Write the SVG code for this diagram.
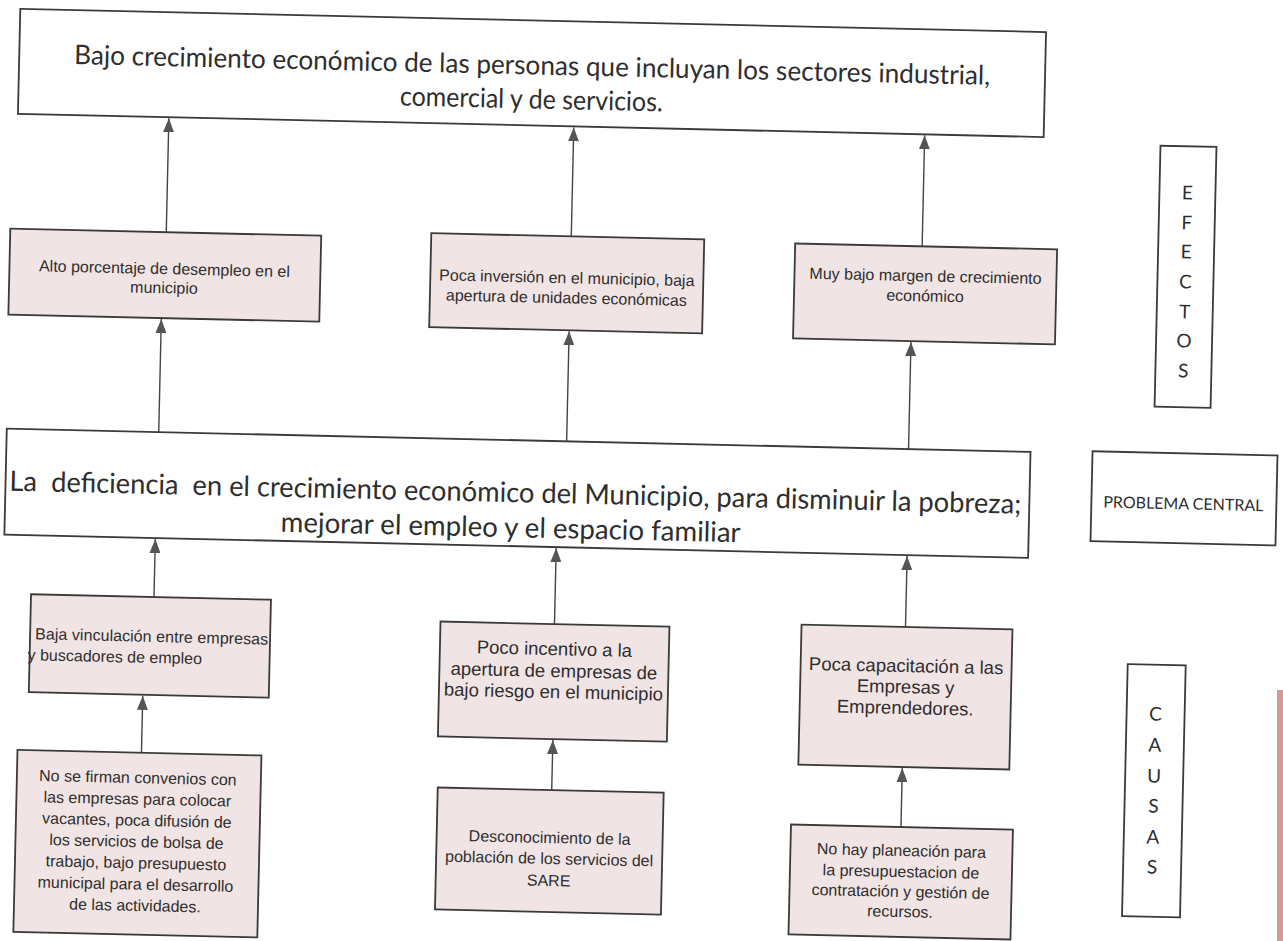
<svg xmlns="http://www.w3.org/2000/svg" width="1283" height="941" viewBox="0 0 1283 941">
<defs>
<style>
.box{fill:#ffffff;stroke:#3a3a3a;stroke-width:1.8}
.pink{fill:#f1e4e4;stroke:#3a3a3a;stroke-width:1.8}
.big{font-family:Lato,"Open Sans","Liberation Sans",sans-serif;font-size:27px;fill:#2e2e2e;text-anchor:middle;white-space:pre}
.lab{font-family:Lato,"Open Sans","Liberation Sans",sans-serif;font-size:19px;fill:#2e2e2e;text-anchor:middle}
.sm{font-family:"Liberation Sans",Arial,sans-serif;font-size:16px;fill:#2e2e2e;text-anchor:middle}
.md{font-family:"Liberation Sans",Arial,sans-serif;font-size:18.5px;fill:#2e2e2e;text-anchor:middle}
.con{stroke:#444;stroke-width:1.4;fill:none;marker-end:url(#ah)}
</style>
<marker id="ah" viewBox="0 0 14 11" refX="14" refY="5.5" markerWidth="14" markerHeight="11" markerUnits="userSpaceOnUse" orient="auto">
<path d="M0,0 L14,5.5 L0,11 z" fill="#555"/>
</marker>
</defs>
<rect x="0" y="0" width="1283" height="941" fill="#ffffff"/>
<rect x="1277" y="690" width="6" height="251" fill="#c98080" opacity="0.8"/>
<g transform="rotate(1.3 640 470)">
<g id="connectors">
<line class="con" x1="161" y1="243" x2="161" y2="129"/>
<line class="con" x1="566" y1="238" x2="566" y2="129"/>
<line class="con" x1="917" y1="240" x2="917" y2="129"/>
<line class="con" x1="158" y1="443" x2="158" y2="330"/>
<line class="con" x1="566" y1="443" x2="566" y2="333"/>
<line class="con" x1="908" y1="443" x2="908" y2="336"/>
<line class="con" x1="157" y1="608" x2="157" y2="550"/>
<line class="con" x1="558" y1="626" x2="558" y2="550"/>
<line class="con" x1="909" y1="621" x2="909" y2="550"/>
<line class="con" x1="148" y1="764" x2="148" y2="707"/>
<line class="con" x1="559" y1="792" x2="559" y2="742"/>
<line class="con" x1="909" y1="821" x2="909" y2="762"/>
</g>
<g id="top">
<rect class="box" x="10" y="23" width="1026" height="105"/>
<text class="big" x="523" y="77" textLength="916" lengthAdjust="spacingAndGlyphs">Bajo crecimiento económico de las personas que incluyan los sectores industrial,</text>
<text class="big" x="523" y="111" textLength="263" lengthAdjust="spacingAndGlyphs">comercial y de servicios.</text>
</g>
<g id="efecto1">
<rect class="pink" x="5" y="243" width="311" height="86"/>
<text class="sm" x="160" y="285">Alto porcentaje de desempleo en el</text>
<text class="sm" x="160" y="304">municipio</text>
</g>
<g id="efecto2">
<rect class="pink" x="426" y="238" width="273" height="94"/>
<text class="sm" x="562.5" y="285">Poca inversión en el municipio, baja</text>
<text class="sm" x="562.5" y="305">apertura de unidades económicas</text>
</g>
<g id="efecto3">
<rect class="pink" x="790" y="240" width="262" height="95"/>
<text class="sm" x="921" y="275">Muy bajo margen de crecimiento</text>
<text class="sm" x="921" y="295">económico</text>
</g>
<g id="efectos-label">
<rect class="box" x="1153" y="134" width="56" height="261"/>
<text class="lab" x="1181" y="187">E</text>
<text class="lab" x="1181" y="217">F</text>
<text class="lab" x="1181" y="246">E</text>
<text class="lab" x="1181" y="276">C</text>
<text class="lab" x="1181" y="306">T</text>
<text class="lab" x="1181" y="335">O</text>
<text class="lab" x="1181" y="365">S</text>
</g>
<g id="central">
<rect class="box" x="6" y="443" width="1024" height="106"/>
<text class="big" x="516" y="505" style="font-size:28px" textLength="1012" lengthAdjust="spacingAndGlyphs">La  deficiencia  en el crecimiento económico del Municipio, para disminuir la pobreza;</text>
<text class="big" x="512" y="540" style="font-size:28px" textLength="460" lengthAdjust="spacingAndGlyphs">mejorar el empleo y el espacio familiar</text>
</g>
<g id="problema-label">
<rect class="box" x="1092" y="441" width="185" height="90"/>
<text class="lab" x="1184" y="497" style="font-size:16px">PROBLEMA CENTRAL</text>
</g>
<g id="causa1">
<rect class="pink" x="34" y="608" width="240" height="98"/>
<text class="sm" x="39" y="653" style="text-anchor:start" textLength="233" lengthAdjust="spacing">Baja vinculación entre empresas</text>
<text class="sm" x="32" y="674" style="text-anchor:start">y buscadores de empleo</text>
</g>
<g id="causa2">
<rect class="pink" x="444" y="626" width="229" height="115"/>
<text class="md" x="558.5" y="657">Poco incentivo a la</text>
<text class="md" x="558.5" y="679">apertura de empresas de</text>
<text class="md" x="558.5" y="700">bajo riesgo en el municipio</text>
</g>
<g id="causa3">
<rect class="pink" x="805" y="621" width="211" height="140"/>
<text class="md" x="910.5" y="666">Poca capacitación a las</text>
<text class="md" x="910.5" y="687">Empresas y</text>
<text class="md" x="910.5" y="708">Emprendedores.</text>
</g>
<g id="subcausa1">
<rect class="pink" x="24" y="764" width="244" height="182"/>
<text class="sm" x="145" y="794.5">No se firman convenios con</text>
<text class="sm" x="145" y="815.8">las empresas para colocar</text>
<text class="sm" x="145" y="837.1">vacantes, poca difusión de</text>
<text class="sm" x="145" y="858.4">los servicios de bolsa de</text>
<text class="sm" x="145" y="879.7">trabajo, bajo presupuesto</text>
<text class="sm" x="145" y="901">municipal para el desarrollo</text>
<text class="sm" x="145" y="922.3">de las actividades.</text>
</g>
<g id="subcausa2">
<rect class="pink" x="445" y="792" width="226" height="122"/>
<text class="sm" x="558" y="845">Desconocimiento de la</text>
<text class="sm" x="558" y="866">población de los servicios del</text>
<text class="sm" x="558" y="888">SARE</text>
</g>
<g id="subcausa3">
<rect class="pink" x="799" y="821" width="222" height="110"/>
<text class="sm" x="910" y="850">No hay planeación para</text>
<text class="sm" x="910" y="871">la presupuestacion de</text>
<text class="sm" x="910" y="891">contratación y gestión de</text>
<text class="sm" x="910" y="911">recursos.</text>
</g>
<g id="causas-label">
<rect class="box" x="1132" y="653" width="58" height="252"/>
<text class="lab" x="1161" y="709">C</text>
<text class="lab" x="1161" y="740">A</text>
<text class="lab" x="1161" y="771">U</text>
<text class="lab" x="1161" y="801">S</text>
<text class="lab" x="1161" y="832">A</text>
<text class="lab" x="1161" y="862">S</text>
</g>
</g>
</svg>
